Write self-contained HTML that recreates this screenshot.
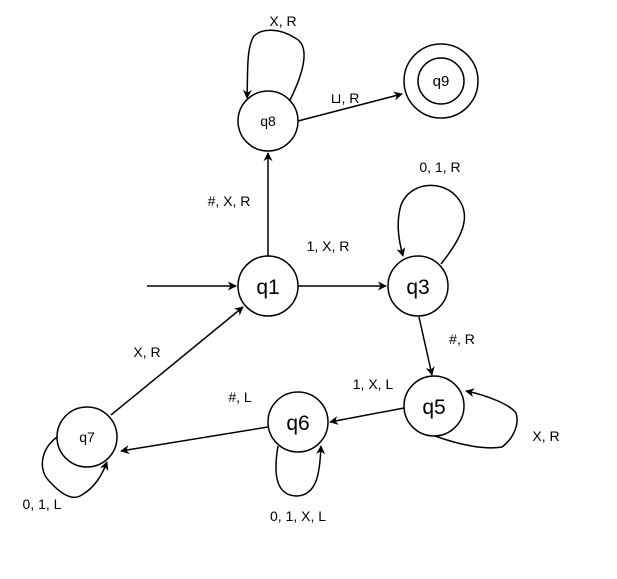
<!DOCTYPE html>
<html><head><meta charset="utf-8"><style>
html,body{margin:0;padding:0;background:#fff;}
text{font-family:"Liberation Sans",sans-serif;fill:#000;}
</style></head><body>
<svg width="617" height="574" viewBox="0 0 617 574" xmlns="http://www.w3.org/2000/svg">
<defs><marker id="a" viewBox="0 0 10 10" refX="9" refY="5" markerWidth="9" markerHeight="9" orient="auto" markerUnits="userSpaceOnUse"><path d="M0,0 L10,5 L0,10 L3,5 z" fill="#000"/></marker></defs>
<g fill="none" stroke="#000" stroke-width="1.5">
<circle cx="268" cy="121" r="30" fill="#fff"/>
<circle cx="441" cy="81" r="37"/>
<circle cx="441" cy="81" r="23"/>
<circle cx="268" cy="286" r="30"/>
<circle cx="418" cy="286" r="30"/>
<circle cx="434" cy="406" r="30"/>
<circle cx="298" cy="422" r="30"/>
<circle cx="87" cy="437" r="30"/>
<path d="M147,286 L236,286" marker-end="url(#a)"/>
<path d="M298,286 L386,286" marker-end="url(#a)"/>
<path d="M268,256 L268,153" marker-end="url(#a)"/>
<path d="M290,100 C305,70 310,45 295,38 C280,28 262,28 254,36 C246,48 248,75 247,98" marker-end="url(#a)"/>
<path d="M298,121 L402,94" marker-end="url(#a)"/>
<path d="M441,264 C460,240 475,215 455,195 C440,180 410,182 401,205 C395,225 400,245 403,256" marker-end="url(#a)"/>
<path d="M419,317 L432,375" marker-end="url(#a)"/>
<path d="M435,436 C460,445 485,450 502,447 C512,440 520,425 516,413 C510,405 490,396 466,391" marker-end="url(#a)"/>
<path d="M404,408 L330,422" marker-end="url(#a)"/>
<path d="M268,427 L121,451" marker-end="url(#a)"/>
<path d="M278,446 C274,470 274,495 296,496 C318,496 320,470 321,446" marker-end="url(#a)"/>
<path d="M57,437 C40,450 38,470 50,482 C62,495 72,500 80,496 C95,488 102,475 107,462" marker-end="url(#a)"/>
<path d="M111,415 L243,307" marker-end="url(#a)"/>
</g>
<g font-size="14" text-anchor="middle">
<text x="268" y="126" font-size="14">q8</text>
<text x="441" y="86" font-size="15">q9</text>
<text x="87" y="442" font-size="14">q7</text>
<text x="268" y="294" font-size="21">q1</text>
<text x="418" y="294" font-size="21">q3</text>
<text x="434" y="414" font-size="21">q5</text>
<text x="298" y="430" font-size="21">q6</text>
<text x="283" y="26">X, R</text>
<text x="345" y="103">⊔, R</text>
<text x="440" y="172">0, 1, R</text>
<text x="229" y="206">#, X, R</text>
<text x="328" y="251">1, X, R</text>
<text x="462" y="344">#, R</text>
<text x="147" y="357">X, R</text>
<text x="373" y="389">1, X, L</text>
<text x="240" y="402">#, L</text>
<text x="546" y="441">X, R</text>
<text x="42" y="509">0, 1, L</text>
<text x="298" y="521">0, 1, X, L</text>
</g>
</svg>
</body></html>
